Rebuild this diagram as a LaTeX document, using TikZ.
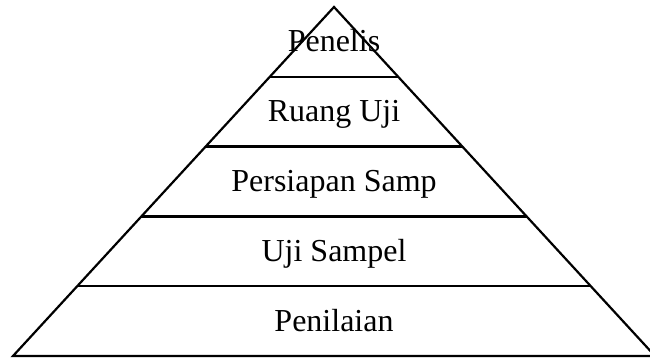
\documentclass[tikz,border=0pt]{standalone}
\usepackage{fontspec}
\setmainfont{Liberation Serif}
\usetikzlibrary{calc}
\begin{document}
\begin{tikzpicture}[x=1pt,y=-1pt,
  edge/.style={line width=2.2pt,line join=miter},
  label/.style={anchor=base,font=\fontsize{32}{36}\selectfont,inner sep=0pt}]
\useasboundingbox (0,0) rectangle (650,358);
\coordinate (A) at (334,7);
\coordinate (L) at (13,356);
\coordinate (R) at (655,356);
\draw[edge] (L) -- (A) -- (R) -- cycle;
\foreach \t [count=\i] in {0.2,0.4,0.6,0.8}{
  \coordinate (l\i) at ($(A)!\t!(L)$);
  \coordinate (r\i) at ($(A)!\t!(R)$);
  \draw[edge] (l\i) -- (r\i);
}
\node[label] (t1) at (334,52) {Penelis};
\node[label] (t2) at (334,122) {Ruang Uji};
\node[label] (t3) at (334,192) {Persiapan Samp};
\node[label] (t4) at (334,261) {Uji Sampel};
\node[label] (t5) at (334,331) {Penilaian};
\end{tikzpicture}
\end{document}
